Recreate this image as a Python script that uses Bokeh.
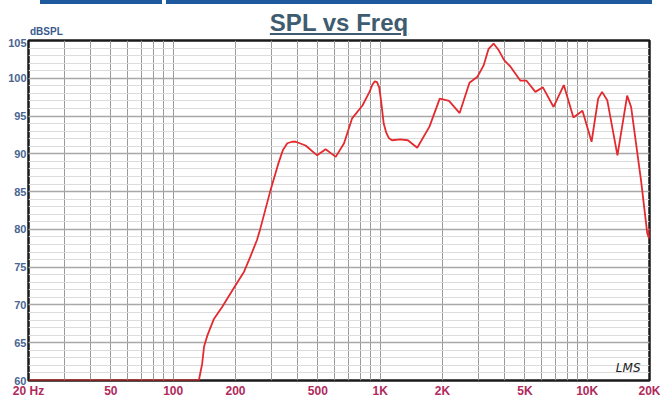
from bokeh.plotting import figure
from bokeh.layouts import column
from bokeh.models import FixedTicker, Label, Range1d, Div
from bokeh.embed import file_html
from bokeh.resources import INLINE

# ---- data ----
freq_hz = [20, 133, 138, 141, 146, 157, 173, 196, 220, 236, 254, 263, 294, 322,
           339, 356, 375, 391, 436, 496, 545, 610, 669, 732, 821, 888, 915,
           942, 965, 989, 1010, 1040, 1070, 1100, 1140, 1250, 1360, 1510, 1730,
           1940, 2150, 2420, 2700, 2950, 3160, 3340, 3530, 3740, 3970, 4270,
           4750, 5080, 5620, 6110, 6880, 7710, 8580, 9490, 10500, 11300, 11800,
           12500, 14000, 15600, 16300, 18200, 19500, 19900, 20000]
spl_db = [60, 60, 62.2, 64.5, 65.9, 68.1, 69.8, 72.2, 74.4, 76.4, 78.6, 80.0,
          85.0, 88.7, 90.5, 91.4, 91.6, 91.6, 91.1, 89.8, 90.6, 89.6, 91.4,
          94.7, 96.4, 98.2, 99.1, 99.6, 99.5, 98.8, 97.0, 94.0, 92.8, 92.1,
          91.8, 91.9, 91.8, 90.8, 93.6, 97.3, 97.0, 95.4, 99.4, 100.2, 101.7,
          103.9, 104.6, 103.7, 102.4, 101.5, 99.7, 99.7, 98.2, 98.8, 96.2,
          99.1, 94.8, 95.7, 91.6, 97.3, 98.2, 97.1, 89.8, 97.7, 96.2, 86.5,
          79.5, 78.8, 80.2]

x_label_ticks = [20, 50, 100, 200, 500, 1000, 2000, 5000, 10000, 20000]
x_label_text = ["20 Hz", "50", "100", "200", "500", "1K", "2K", "5K", "10K", "20K"]
x_minor_ticks = [30, 40, 60, 70, 80, 90, 300, 400, 600, 700, 800, 900,
                 3000, 4000, 6000, 7000, 8000, 9000]
y_ticks = list(range(60, 106, 5))
y_minor = list(range(60, 106, 1))
title_text = "SPL vs Freq"
unit_text = "dBSPL"

W = 660
TOP_H = 38
MAIN_H = 400 - TOP_H

# ---- header: page strip, underlined title, unit label ----
header_html = f"""
<div style="position:relative;width:{W}px;height:{TOP_H}px;overflow:hidden;
 font-family:'Liberation Sans',Arial,sans-serif;background:white;">
 <div style="position:absolute;left:40px;top:0;width:122px;height:3.5px;background:#1f5a9e"></div>
 <div style="position:absolute;left:166px;top:0;width:486px;height:3.5px;background:#1f5a9e"></div>
 <div style="position:absolute;left:0;top:8.5px;width:678px;text-align:center;
  font-weight:bold;font-size:24px;line-height:28px;color:#3e5b70;
  text-decoration:underline;text-decoration-thickness:2px;text-underline-offset:2px;">{title_text}</div>
 <div style="position:absolute;left:30px;top:25.5px;font-weight:bold;font-size:10px;
  line-height:12px;color:#3a5a8c;">{unit_text}</div>
</div>
"""
h = Div(text=header_html, width=W, height=TOP_H, margin=0)

# ---- main chart ----
p = figure(width=W, height=MAIN_H, x_axis_type="log", output_backend="svg",
           toolbar_location=None, x_range=Range1d(20, 20000),
           y_range=Range1d(60, 105), min_border_left=28, min_border_right=11,
           min_border_top=2, min_border_bottom=19,
           background_fill_color="white", border_fill_color="white")
p.outline_line_color = "#1a1a1a"
p.outline_line_width = 2.5

p.xgrid.ticker = FixedTicker(ticks=x_label_ticks, minor_ticks=x_minor_ticks)
p.xgrid.grid_line_color = "#9a9a9a"
p.xgrid.minor_grid_line_color = "#9a9a9a"
p.ygrid.ticker = FixedTicker(ticks=y_ticks, minor_ticks=y_minor)
p.ygrid.grid_line_color = "#a8a8a8"
p.ygrid.grid_line_width = 1.3
p.ygrid.minor_grid_line_color = "#dcdcdc"

xa = p.xaxis[0]
xa.ticker = FixedTicker(ticks=x_label_ticks)
xa.major_label_overrides = {t: s for t, s in zip(x_label_ticks, x_label_text)}
xa.major_label_text_color = "#b02a5c"
xa.major_label_text_font = "Liberation Sans"
xa.major_label_text_font_style = "bold"
xa.major_label_text_font_size = "12px"
xa.major_label_standoff = 3
ya = p.yaxis[0]
ya.ticker = FixedTicker(ticks=y_ticks)
ya.major_label_text_color = "#4a6592"
ya.major_label_text_font = "Liberation Sans"
ya.major_label_text_font_style = "bold"
ya.major_label_text_font_size = "11px"
ya.major_label_standoff = 2
for ax in (xa, ya):
    ax.axis_line_color = None
    ax.major_tick_line_color = None
    ax.minor_tick_line_color = None
    ax.major_tick_out = 0
    ax.major_tick_in = 0

p.line(freq_hz, spl_db, line_color="#e42a2e", line_width=1.8)

p.add_layout(Label(x=20000, y=60, x_offset=-9, y_offset=6, text="LMS",
                   text_align="right", text_baseline="bottom",
                   text_font="DejaVu Sans", text_font_style="italic",
                   text_font_size="12px", text_color="#222222"))

layout = column(h, p, spacing=0)
open("out.html", "w").write(file_html(layout, INLINE))
